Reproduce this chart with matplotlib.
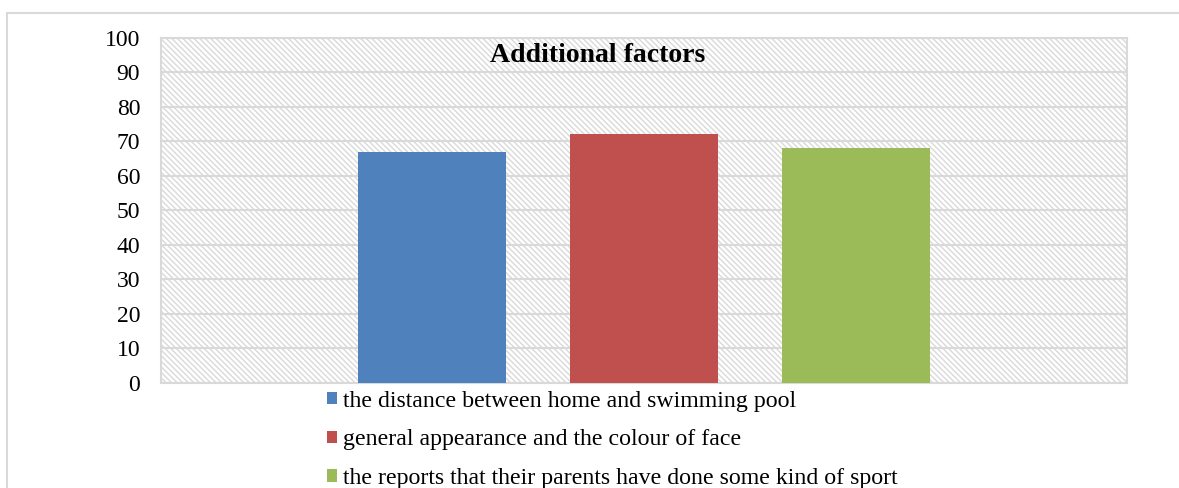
import matplotlib
matplotlib.use("Agg")
import matplotlib.pyplot as plt
from matplotlib.patches import Rectangle, Patch

# data
series = ["the distance between home and swimming pool",
          "general appearance and the colour of face",
          "the reports that their parents have done some kind of sport"]
values = [67, 72, 68]
colors = ["#4f81bd", "#c0504d", "#9bbb59"]
yticks = list(range(0, 101, 10))
title = "Additional factors"

plt.rcParams['font.family'] = ['Liberation Serif', 'DejaVu Serif']
plt.rcParams['hatch.color'] = '#d6d6d6'
plt.rcParams['hatch.linewidth'] = 1.0

fig = plt.figure(figsize=(11.79, 4.88), dpi=100)

# outer chart border
fig.patches.append(Rectangle((7 / 1179, -0.1), 1.2, 1 - 13 / 488 + 0.1,
                             transform=fig.transFigure, fill=False,
                             edgecolor='#d9d9d9', linewidth=1.5))

ax = fig.add_axes([161 / 1179, 1 - 383 / 488, 966 / 1179, 345.5 / 488])
ax.patch.set_facecolor('white')
ax.patch.set_hatch('\\' * 6)
ax.patch.set_edgecolor('#d9d9d9')

ax.set_ylim(0, 100)
ax.set_xlim(-1.28, 3.28)
ax.set_yticks(yticks)
ax.set_xticks([])
ax.yaxis.grid(True, color='#d9d9d9', linewidth=1.5)
ax.set_axisbelow(True)
ax.tick_params(axis='y', length=0, pad=15, labelsize=17)
for s in ax.spines.values():
    s.set_color('#d9d9d9')
    s.set_linewidth(1.5)

for i, (v, c) in enumerate(zip(values, colors)):
    ax.bar(i, v, width=0.7, color=c, zorder=3)

fig.text(598 / 1179, 1 - 56 / 488, title, ha='center', va='center',
         fontsize=20, fontweight='bold')

handles = [Patch(facecolor=c, edgecolor='none') for c in colors]
fig.legend(handles, series, loc='upper left',
           bbox_to_anchor=(317 / 1179, 1 - 381 / 488),
           frameon=False, fontsize=17.2, handlelength=0.45, handleheight=0.45,
           handletextpad=0.25, labelspacing=0.75, borderaxespad=0)

fig.savefig("out.png", dpi=100)
